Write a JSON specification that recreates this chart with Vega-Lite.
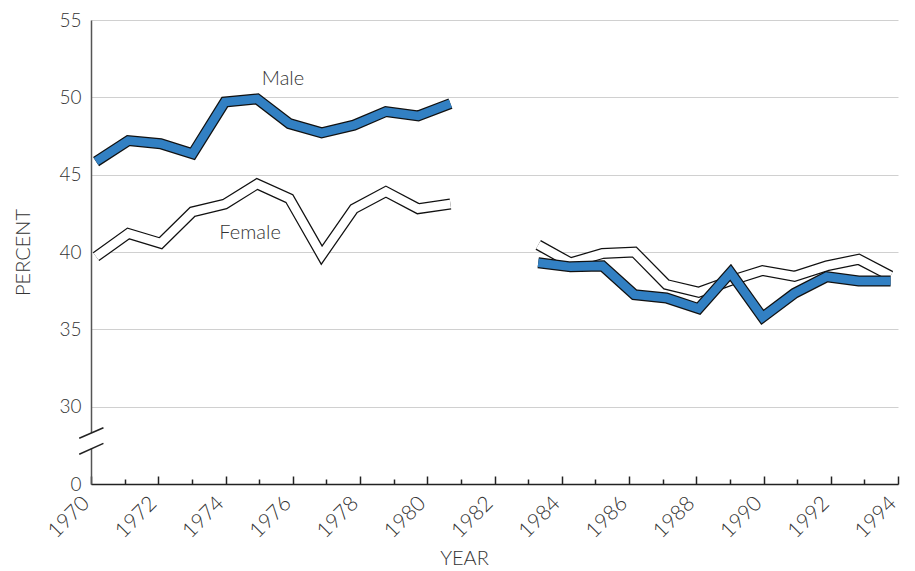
{
  "$schema": "https://vega.github.io/schema/vega-lite/v6.json",
  "autosize": {"type": "none"},
  "padding": {"left": 91, "top": 20, "right": 17, "bottom": 87},
  "width": 807,
  "height": 464,
  "background": "white",
  "config": {
    "view": {"stroke": null},
    "font": "Lato",
    "axis": {"labelFont": "Lato", "titleFont": "Lato", "labelColor": "#333", "titleColor": "#333", "labelFontWeight": 300, "titleFontWeight": 300}
  },
  "datasets": {
    "series": [
      {"series": "Male", "period": "A", "year": 1970.15, "value": 45.85},
      {"series": "Male", "period": "A", "year": 1971.11, "value": 47.2},
      {"series": "Male", "period": "A", "year": 1972.07, "value": 47.0},
      {"series": "Male", "period": "A", "year": 1973.02, "value": 46.35},
      {"series": "Male", "period": "A", "year": 1973.98, "value": 49.7},
      {"series": "Male", "period": "A", "year": 1974.94, "value": 49.9},
      {"series": "Male", "period": "A", "year": 1975.90, "value": 48.3},
      {"series": "Male", "period": "A", "year": 1976.86, "value": 47.7},
      {"series": "Male", "period": "A", "year": 1977.82, "value": 48.2},
      {"series": "Male", "period": "A", "year": 1978.77, "value": 49.08},
      {"series": "Male", "period": "A", "year": 1979.73, "value": 48.8},
      {"series": "Male", "period": "A", "year": 1980.69, "value": 49.6},
      {"series": "Male", "period": "B", "year": 1983.30, "value": 39.3},
      {"series": "Male", "period": "B", "year": 1984.26, "value": 39.04},
      {"series": "Male", "period": "B", "year": 1985.21, "value": 39.1},
      {"series": "Male", "period": "B", "year": 1986.16, "value": 37.24},
      {"series": "Male", "period": "B", "year": 1987.11, "value": 37.03},
      {"series": "Male", "period": "B", "year": 1988.07, "value": 36.34},
      {"series": "Male", "period": "B", "year": 1989.02, "value": 38.67},
      {"series": "Male", "period": "B", "year": 1989.97, "value": 35.78},
      {"series": "Male", "period": "B", "year": 1990.92, "value": 37.33},
      {"series": "Male", "period": "B", "year": 1991.88, "value": 38.4},
      {"series": "Male", "period": "B", "year": 1992.83, "value": 38.13},
      {"series": "Male", "period": "B", "year": 1993.78, "value": 38.13},
      {"series": "Female", "period": "A", "year": 1970.15, "value": 39.7},
      {"series": "Female", "period": "A", "year": 1971.11, "value": 41.2},
      {"series": "Female", "period": "A", "year": 1972.07, "value": 40.57},
      {"series": "Female", "period": "A", "year": 1973.02, "value": 42.6},
      {"series": "Female", "period": "A", "year": 1973.98, "value": 43.1},
      {"series": "Female", "period": "A", "year": 1974.94, "value": 44.4},
      {"series": "Female", "period": "A", "year": 1975.90, "value": 43.45},
      {"series": "Female", "period": "A", "year": 1976.86, "value": 39.8},
      {"series": "Female", "period": "A", "year": 1977.82, "value": 42.8},
      {"series": "Female", "period": "A", "year": 1978.77, "value": 43.9},
      {"series": "Female", "period": "A", "year": 1979.73, "value": 42.8},
      {"series": "Female", "period": "A", "year": 1980.69, "value": 43.1},
      {"series": "Female", "period": "B", "year": 1983.30, "value": 40.46},
      {"series": "Female", "period": "B", "year": 1984.26, "value": 39.3},
      {"series": "Female", "period": "B", "year": 1985.21, "value": 39.9},
      {"series": "Female", "period": "B", "year": 1986.16, "value": 40.0},
      {"series": "Female", "period": "B", "year": 1987.11, "value": 37.9},
      {"series": "Female", "period": "B", "year": 1988.07, "value": 37.4},
      {"series": "Female", "period": "B", "year": 1989.02, "value": 38.15},
      {"series": "Female", "period": "B", "year": 1989.97, "value": 38.8},
      {"series": "Female", "period": "B", "year": 1990.92, "value": 38.43},
      {"series": "Female", "period": "B", "year": 1991.88, "value": 39.1},
      {"series": "Female", "period": "B", "year": 1992.83, "value": 39.53},
      {"series": "Female", "period": "B", "year": 1993.78, "value": 38.45}
    ],
    "labels": [
      {"label": "Male", "year": 1975.71, "value": 51.2},
      {"label": "Female", "year": 1974.73, "value": 41.24}
    ],
    "breaks": [
      {"x": 1969.65, "x2": 1970.37, "y": 27.96, "y2": 28.64},
      {"x": 1969.65, "x2": 1970.37, "y": 26.92, "y2": 27.63}
    ],
    "gap": [
      {"x": 1970, "y": 27.3, "y2": 28.3}
    ]
  },
  "resolve": {"axis": {"x": "independent"}},
  "layer": [
    {
      "data": {"name": "series"},
      "transform": [{"filter": "datum.series === 'Female'"}],
      "mark": {"type": "line", "color": "#111", "strokeWidth": 11, "strokeCap": "butt", "strokeJoin": "miter"},
      "encoding": {
        "x": {
          "field": "year", "type": "quantitative",
          "scale": {"domain": [1970, 1994], "nice": false, "zero": false},
          "axis": {
            "orient": "bottom",
            "values": [1970, 1972, 1974, 1976, 1978, 1980, 1982, 1984, 1986, 1988, 1990, 1992, 1994],
            "format": "d", "labelAngle": -45, "labelAlign": "right", "labelBaseline": "middle",
            "labelFontSize": 21, "labelPadding": 24, "labelOffset": -5, "labelOverlap": false, "labelBound": false, "labelFlush": false,
            "tickSize": -8, "tickColor": "#222", "tickWidth": 1.5,
            "domainColor": "#222", "domainWidth": 1.5, "grid": false,
            "title": "YEAR", "titleFontSize": 20, "titleX": 373, "titleY": 64, "titleAnchor": "middle", "titleBaseline": "top"
          }
        },
        "y": {
          "field": "value", "type": "quantitative",
          "scale": {"domain": [25, 55], "nice": false, "zero": false},
          "axis": {
            "values": [25, 30, 35, 40, 45, 50, 55],
            "labelExpr": "datum.value == 25 ? '0' : datum.label",
            "labelFontSize": 19, "labelPadding": 10, "ticks": false,
            "grid": true, "gridColor": "#d0d0d0", "gridWidth": 1,
            "domainColor": "#555", "domainWidth": 1.5,
            "title": "PERCENT", "titleFontSize": 20, "titlePadding": 25
          }
        },
        "detail": {"field": "period"}
      }
    },
    {
      "data": {"name": "series"},
      "transform": [{"filter": "datum.series === 'Female'"}],
      "mark": {"type": "line", "color": "white", "strokeWidth": 8.5, "strokeCap": "butt", "strokeJoin": "miter"},
      "encoding": {
        "x": {
          "field": "year", "type": "quantitative",
          "axis": {
            "orient": "bottom",
            "values": [1971, 1973, 1975, 1977, 1979, 1981, 1983, 1985, 1987, 1989, 1991, 1993],
            "labels": false, "domain": false, "grid": false, "title": null,
            "tickSize": -5, "tickColor": "#222", "tickWidth": 1.5
          }
        },
        "y": {"field": "value", "type": "quantitative"},
        "detail": {"field": "period"}
      }
    },
    {
      "data": {"name": "series"},
      "transform": [{"filter": "datum.series === 'Male'"}],
      "mark": {"type": "line", "color": "#111", "strokeWidth": 11, "strokeCap": "butt", "strokeJoin": "miter"},
      "encoding": {
        "x": {"field": "year", "type": "quantitative", "axis": null},
        "y": {"field": "value", "type": "quantitative"},
        "detail": {"field": "period"}
      }
    },
    {
      "data": {"name": "series"},
      "transform": [{"filter": "datum.series === 'Male'"}],
      "mark": {"type": "line", "color": "#3280c3", "strokeWidth": 8.5, "strokeCap": "butt", "strokeJoin": "miter"},
      "encoding": {
        "x": {"field": "year", "type": "quantitative", "axis": null},
        "y": {"field": "value", "type": "quantitative"},
        "detail": {"field": "period"}
      }
    },
    {
      "data": {"name": "labels"},
      "mark": {"type": "text", "font": "Lato", "fontWeight": 300, "fontSize": 20, "color": "#333", "align": "center", "baseline": "middle"},
      "encoding": {
        "x": {"field": "year", "type": "quantitative", "axis": null},
        "y": {"field": "value", "type": "quantitative"},
        "text": {"field": "label"}
      }
    },
    {
      "data": {"name": "gap"},
      "mark": {"type": "rule", "color": "white", "strokeWidth": 5, "clip": false},
      "encoding": {
        "x": {"field": "x", "type": "quantitative", "axis": null},
        "y": {"field": "y", "type": "quantitative"},
        "y2": {"field": "y2"}
      }
    },
    {
      "data": {"name": "breaks"},
      "mark": {"type": "rule", "color": "#222", "strokeWidth": 1.5, "clip": false},
      "encoding": {
        "x": {"field": "x", "type": "quantitative", "axis": null},
        "x2": {"field": "x2"},
        "y": {"field": "y", "type": "quantitative"},
        "y2": {"field": "y2"}
      }
    }
  ]
}
